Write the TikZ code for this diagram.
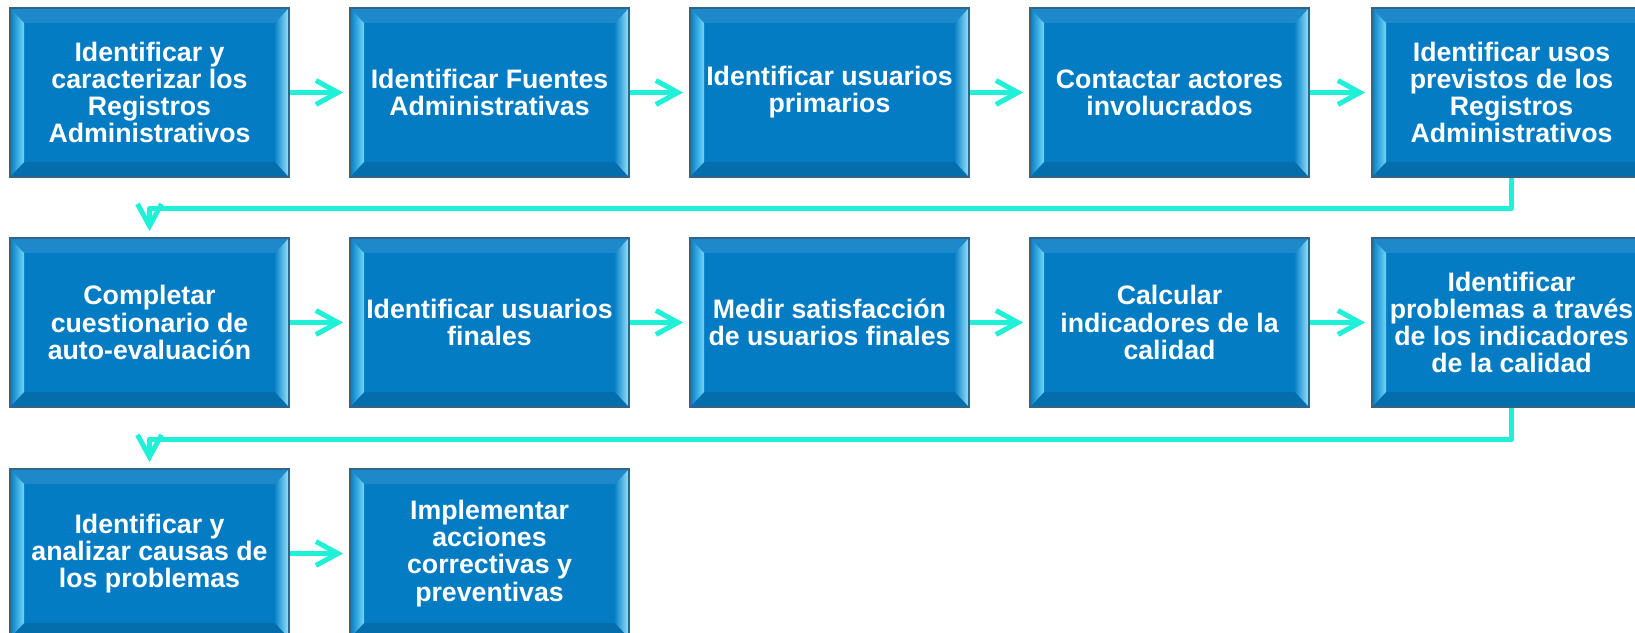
\documentclass[tikz,border=0pt]{standalone}
\usepackage{fontspec}
\setmainfont{Liberation Sans}
\usetikzlibrary{arrows.meta}
\definecolor{boxBlue}{RGB}{4,124,196}
\definecolor{bevelLight}{RGB}{110,215,250}
\definecolor{boxEdge}{RGB}{50,100,135}
\definecolor{flowCyan}{RGB}{32,240,216}
\begin{document}
\begin{tikzpicture}[stepStyle/.style={rectangle, fill=boxBlue, draw=boxEdge, line width=0.5pt, minimum width=2.79cm, minimum height=1.69cm, inner sep=0pt, align=center, text=white, font=\fontsize{7.6}{7.7}\selectfont\bfseries,
    path picture={
        \fill[boxBlue!90!white] (path picture bounding box.north west) -- (path picture bounding box.north east) -- ([shift={(-0.14,-0.15)}]path picture bounding box.north east) -- ([shift={(0.14,-0.15)}]path picture bounding box.north west) -- cycle;
        \fill[boxBlue!88!black] (path picture bounding box.south west) -- (path picture bounding box.south east) -- ([shift={(-0.14,0.15)}]path picture bounding box.south east) -- ([shift={(0.14,0.15)}]path picture bounding box.south west) -- cycle;
        \shade[left color=boxBlue, right color=bevelLight] (path picture bounding box.north west) -- ([shift={(0.14,-0.15)}]path picture bounding box.north west) -- ([shift={(0.14,0.15)}]path picture bounding box.south west) -- (path picture bounding box.south west) -- cycle;
        \shade[left color=boxBlue!90!bevelLight, right color=bevelLight!70!white] (path picture bounding box.north east) -- ([shift={(-0.14,-0.15)}]path picture bounding box.north east) -- ([shift={(-0.14,0.15)}]path picture bounding box.south east) -- (path picture bounding box.south east) -- cycle;
    }},
    arrowStyle/.style={draw=flowCyan, line width=0.05cm, line join=round, shorten >=0.06cm, -{Straight Barb[length=0.22cm, width=0.24cm]}}]
    \useasboundingbox (0,0) rectangle (16.35,6.32);
    % first row
    \node[stepStyle] (step_0) at ( 1.495, 5.395) {Identificar y\\caracterizar los\\Registros\\Administrativos};
    \node[stepStyle] (step_1) at ( 4.895, 5.395) {Identificar Fuentes\\Administrativas};
    \node[stepStyle] (step_2) at ( 8.295, 5.395) {Identificar usuarios\\primarios};
    \node[stepStyle] (step_3) at (11.695, 5.395) {Contactar actores\\involucrados};
    \node[stepStyle] (step_4) at (15.115, 5.395) {Identificar usos\\previstos de los\\Registros\\Administrativos};
    % second row
    \node[stepStyle] (step_5) at ( 1.495, 3.095) {Completar\\cuestionario de\\auto-evaluación};
    \node[stepStyle] (step_6) at ( 4.895, 3.095) {Identificar usuarios\\finales};
    \node[stepStyle] (step_7) at ( 8.295, 3.095) {Medir satisfacción\\de usuarios finales};
    \node[stepStyle] (step_8) at (11.695, 3.095) {Calcular\\indicadores de la\\calidad};
    \node[stepStyle] (step_9) at (15.115, 3.095) {Identificar\\problemas a través\\de los indicadores\\de la calidad};
    % third row
    \node[stepStyle] (step_10) at ( 1.495, 0.785) {Identificar y\\analizar causas de\\los problemas};
    \node[stepStyle] (step_11) at ( 4.895, 0.785) {Implementar\\acciones\\correctivas y\\preventivas};
    % connectors
    \foreach \a/\b in {0/1, 1/2, 2/3, 3/4, 5/6, 6/7, 7/8, 8/9, 10/11}
        \draw[arrowStyle] (step_\a.east) -- (step_\b.west);
    \draw[arrowStyle] (step_4.south) -- ++(0,-0.31) -| (step_5.north);
    \draw[arrowStyle] (step_9.south) -- ++(0,-0.32) -| (step_10.north);
\end{tikzpicture}
\end{document}
